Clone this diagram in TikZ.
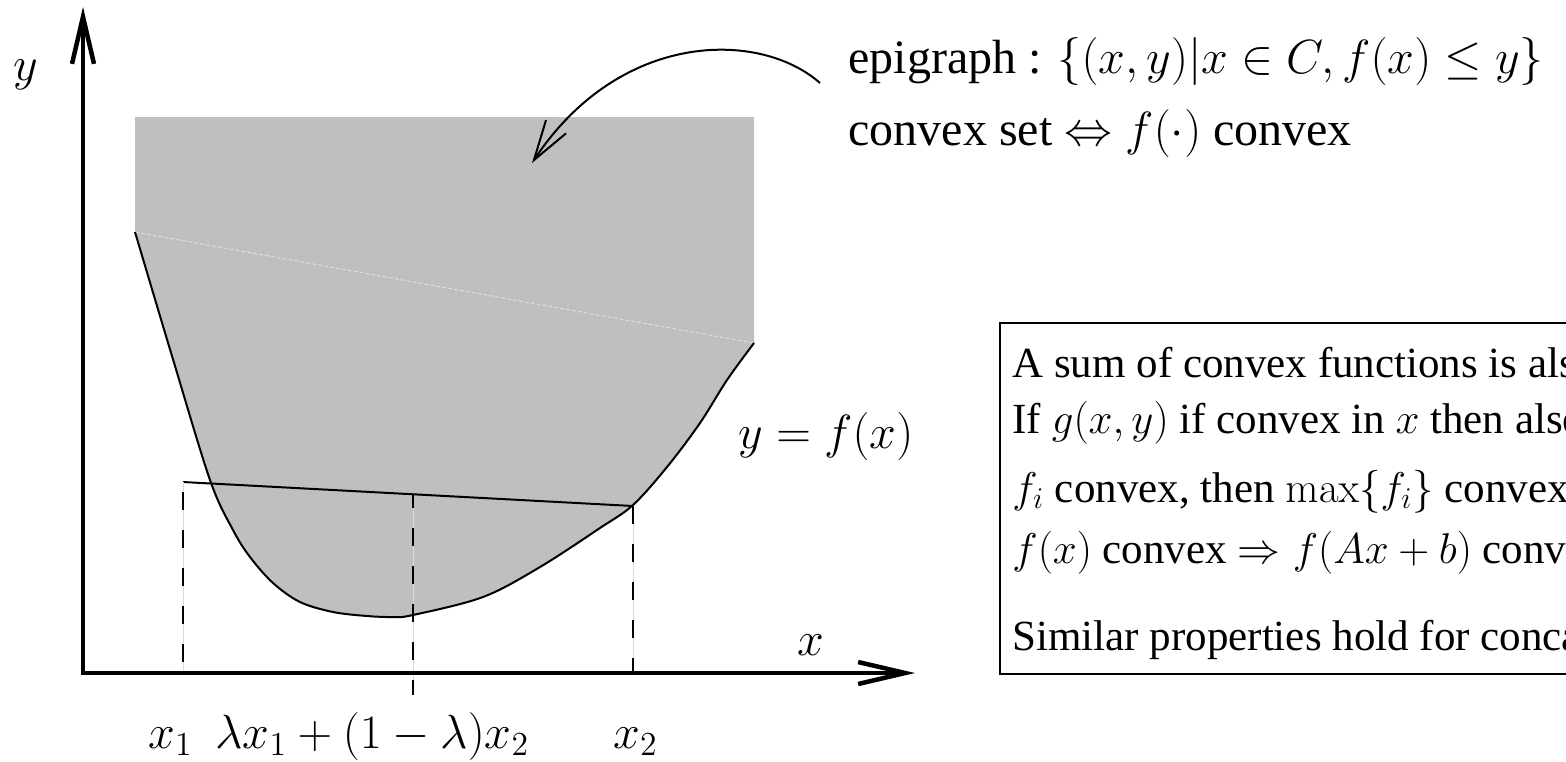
\RequirePackage{fix-cm}
\documentclass[tikz,border=0pt]{standalone}
\usepackage[no-math]{fontspec}
\setmainfont{Liberation Serif}
\usetikzlibrary{arrows.meta}
\definecolor{epigray}{RGB}{191,191,191}
\definecolor{faint}{RGB}{222,222,222}
\begin{document}
\begin{tikzpicture}[x=0.5pt,y=-0.5pt,
  big/.style={inner sep=0pt, anchor=base west, font=\fontsize{24}{29}\selectfont},
  small/.style={inner sep=0pt, anchor=base west, font=\fontsize{21.5}{26}\selectfont},
  axisline/.style={line width=2.25pt, line join=miter},
  curveline/.style={line width=1pt},
  dashline/.style={line width=1.3pt, dash pattern=on 9pt off 10pt},
  underline/.style={line width=0.4pt, draw=black!15},
  boxline/.style={line width=1.2pt},
  pointer/.style={line width=1pt, -{Straight Barb[length=20pt,width=12pt,line width=1pt]}}
]
\useasboundingbox (0,0) rectangle (1566,761);

% key points
\coordinate (O) at (83,673);
\coordinate (ytip) at (83,7);
\coordinate (xtip) at (915,673);
\coordinate (TL) at (135,117);
\coordinate (TR) at (754,117);
\coordinate (CL) at (135,232);
\coordinate (CR) at (754,343);
\coordinate (P1) at (183,482);
\coordinate (P2) at (633,506);
\coordinate (Pm) at (413,494);
\coordinate (B1) at (183,673);
\coordinate (B2) at (633,673);
\coordinate (Bm) at (413,695);
\coordinate (arrS) at (820,83);
\coordinate (arrT) at (532,163);

% epigraph fill
\fill[epigray] (TL) -- plot[smooth, tension=0.55] coordinates {(135,232) (172,356) (210,480) (233,530) (250,557) (273,583) (300,602) (333,612) (367,616) (393,617) (413,615) (483,597) (540,567) (600,528) (633,505) (667,467) (700,423) (727,380) (754,343)} -- (TR) -- cycle;
\draw[faint, line width=0.5pt, dash pattern=on 2pt off 1pt] (CL) -- (CR);

% function curve
\draw[curveline] plot[smooth, tension=0.55] coordinates {(135,232) (172,356) (210,480) (233,530) (250,557) (273,583) (300,602) (333,612) (367,616) (393,617) (413,615) (483,597) (540,567) (600,528) (633,505) (667,467) (700,423) (727,380) (754,343)};

% chord
\draw[curveline] (P1) -- (P2);

% dashed verticals
\draw[underline] (P1) -- (B1);
\draw[underline] (Pm) -- (Bm);
\draw[underline] (P2) -- (B2);
\draw[dashline, dash phase=14pt] (P1) -- (B1);
\draw[dashline, dash phase=2pt] (Pm) -- (Bm);
\draw[dashline] (P2) -- (B2);

% axes
\draw[axisline, {Straight Barb[length=23.5pt,width=11pt,line width=2.25pt]}-{Straight Barb[length=23.5pt,width=11pt,line width=2.25pt]}] (ytip) -- (O) -- (xtip);

% axis labels
\node[big] (ylab) at (13,80) {$y$};
\node[big] (xlab) at (797,655) {$x$};
\node[big] (flab) at (738,448) {$y=f(x)$};
\node[big] (x1lab) at (148,748) {$x_1$};
\node[big] (mlab) at (215,748) {$\lambda x_1+(1-\lambda)x_2$};
\node[big] (x2lab) at (613,748) {$x_2$};

% epigraph text and pointer
\node[big] (epi1) at (848,73) {epigraph : $\{(x,y)|x\in C, f(x)\leq y\}$};
\node[big] (epi2) at (848,145) {convex set $\Leftrightarrow f(\cdot)$ convex};
\draw[pointer] (arrS) .. controls (760,30) and (620,30) .. (arrT);

% properties box
\draw[boxline] (1000,323) rectangle (1640,674);
\node[small] (l1) at (1012,377) {A sum of convex functions is also};
\node[small] (l2) at (1012,433) {If $g(x,y)$ if convex in $x$ then also};
\node[small] (l3) at (1012,502) {$f_i$ convex, then $\max\{f_i\}$ convex};
\node[small] (l4) at (1012,563) {$f(x)$ convex $\Rightarrow f(Ax+b)$ convex};
\node[small] (l5) at (1012,650) {Similar properties hold for concave};
\end{tikzpicture}
\end{document}
